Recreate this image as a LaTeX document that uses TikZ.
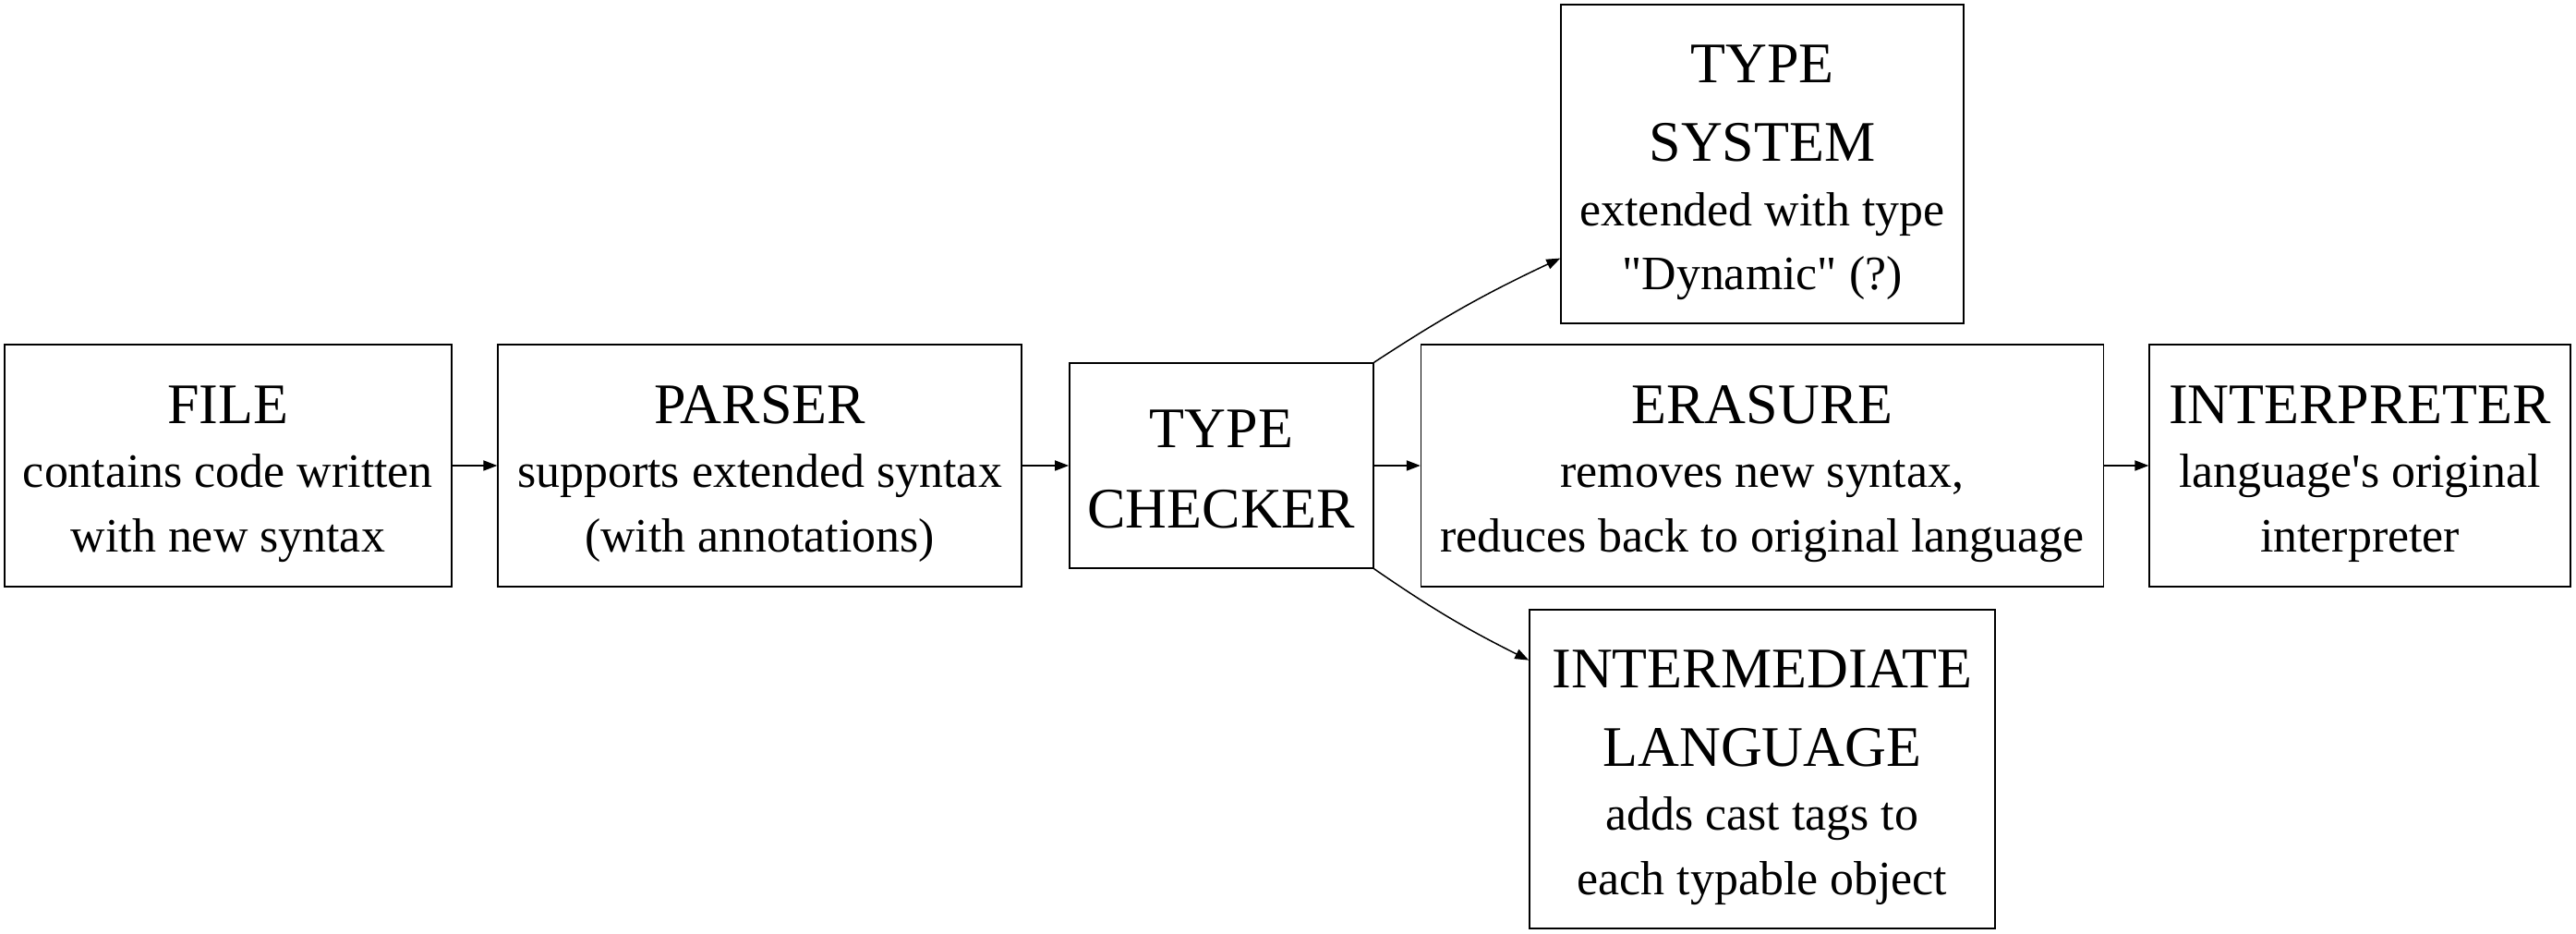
\documentclass[tikz,border=0pt]{standalone}
\usepackage{fontspec}
\setmainfont{Liberation Serif}
\usetikzlibrary{arrows.meta}
\tikzset{>={Triangle[width=3.7pt,length=5pt]}}
\tikzset{stage/.style={draw, line width=0.5pt, inner sep=0pt, align=center,
    font=\fontsize{17.3}{23.3}\selectfont}}
\newcommand{\TITLE}[1]{{\fontsize{20.7}{24}\selectfont #1}}
\newcommand{\TOP}{\rule{0pt}{20pt}}
\newcommand{\BOT}{\rule[-4pt]{0pt}{4pt}}

\begin{document}
\begin{tikzpicture}[line width=0.5pt]
  \useasboundingbox (0pt,0pt) rectangle (929.67pt,337pt);

  \newcommand\Row{169pt};
  \newcommand\Mid{636pt};

  % main row
  \node[stage, minimum width=161.3pt, minimum height=87.3pt] (file) at (82.3pt,\Row)
  {\TOP\TITLE{FILE}\\ contains code written\\ with new syntax\BOT};
  \node[stage, minimum width=189pt, minimum height=87.3pt] (parser) at (274.2pt,\Row)
  {\TOP\TITLE{PARSER}\\ supports extended syntax\\ (with annotations)\BOT};
  \node[stage, minimum width=109.7pt, minimum height=74pt] (checker) at (440.8pt,\Row)
  {\TOP\TITLE{TYPE}\\[6pt] \TITLE{CHECKER}\BOT};
  \node[stage, minimum width=246.3pt, minimum height=87.3pt] (erasure) at (\Mid,\Row)
  {\TOP\TITLE{ERASURE}\\ removes new syntax,\\ reduces back to original language\BOT};
  \node[stage, minimum width=152pt, minimum height=87.3pt] (interp) at (851.7pt,\Row)
  {\TOP\TITLE{INTERPRETER}\\ language\textquotesingle s original\\ interpreter\BOT};

  % branches
  \node[stage, minimum width=145.3pt, minimum height=115pt] (system) at (\Mid,277.8pt)
  {\TOP\TITLE{TYPE}\\[5pt] \TITLE{SYSTEM}\\ extended with type\\
    \textquotedbl Dynamic\textquotedbl{} (?)\BOT};
  \node[stage, minimum width=168pt, minimum height=115pt] (inter) at (\Mid,59.5pt)
  {\TOP\TITLE{INTERMEDIATE}\\[5pt] \TITLE{LANGUAGE}\\ adds cast tags to\\ each typable object\BOT};

  \draw[->] (file) -- (parser);
  \draw[->] (parser) -- (checker);
  \draw[->] (checker) -- (erasure);
  \draw[->] (erasure) -- (interp);
  \draw[->] (checker.north east) to[bend left=4] (system.205);
  \draw[->] (checker.south east) to[bend right=4] (inter.155);
\end{tikzpicture}
\end{document}
